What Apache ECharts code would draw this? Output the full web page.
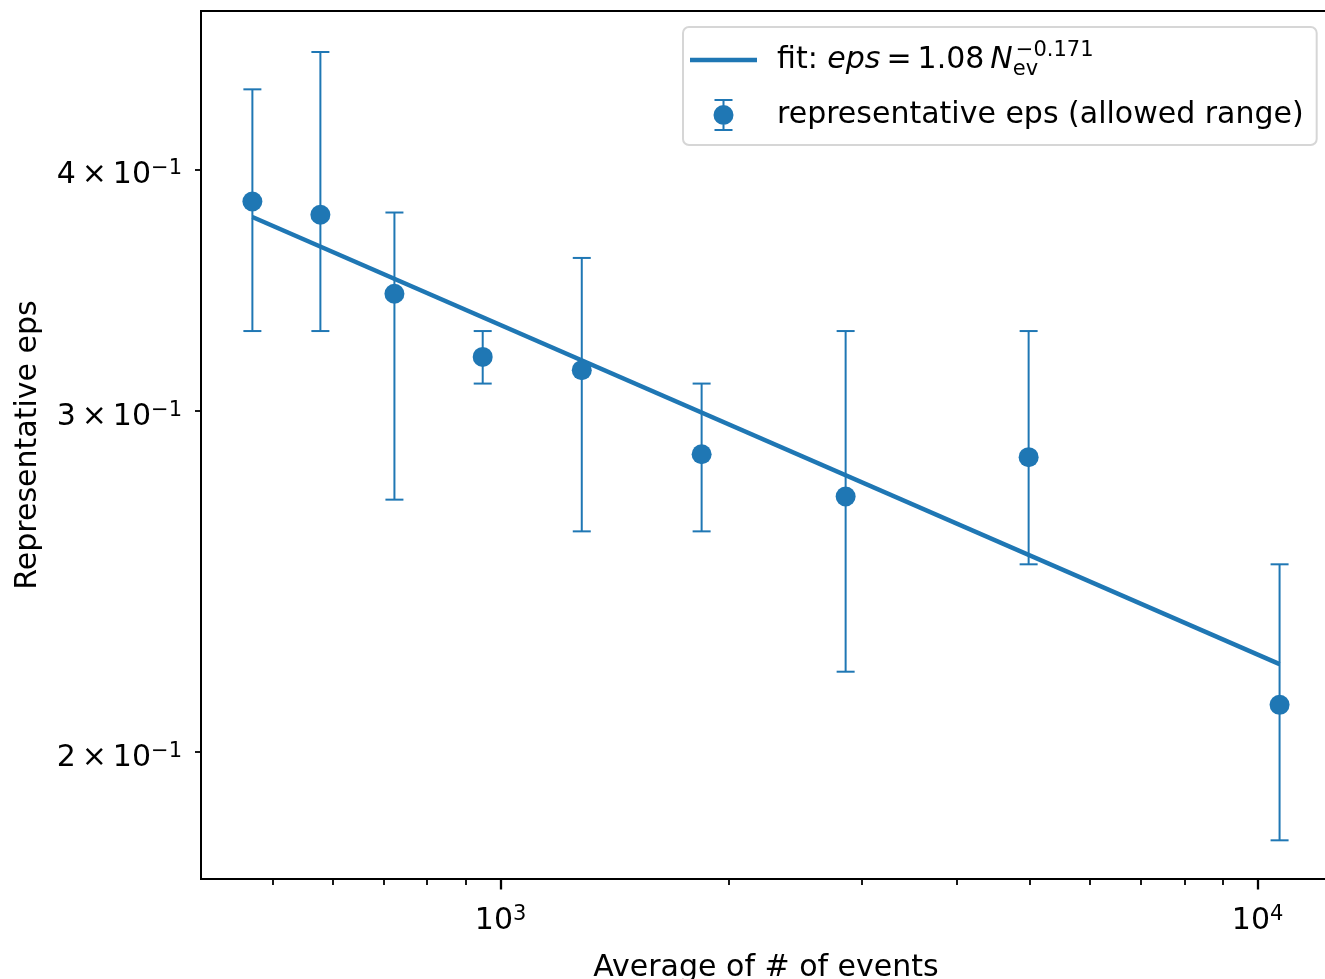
<!DOCTYPE html>
<html><head><meta charset="utf-8">
<script src="https://cdn.jsdelivr.net/npm/echarts@6/dist/echarts.min.js"></script>
<style>html,body{margin:0;padding:0;background:#fff}#c{width:1325px;height:979px}</style>
</head><body><div id="c"></div>
<script>
// ---- data ----
const eventsX  = [470, 578, 724, 947, 1280, 1843, 2856, 4983, 10690];
const epsY     = [0.385, 0.379, 0.345, 0.320, 0.315, 0.285, 0.271, 0.284, 0.2115];
const epsLow   = [0.330, 0.330, 0.270, 0.310, 0.260, 0.260, 0.220, 0.250, 0.180];
const epsHigh  = [0.440, 0.460, 0.380, 0.330, 0.360, 0.310, 0.330, 0.330, 0.250];
const fitX     = [470, 10690];
const fitY     = [0.378, 0.222];
const xMajorTicks = [1000, 10000];
const xMajorExp   = ['3', '4'];
const xMinorTicks = [500, 600, 700, 800, 900, 2000, 3000, 4000, 5000, 6000, 7000, 8000, 9000];
const yTicks      = [0.2, 0.3, 0.4];
const yTickMant   = ['2', '3', '4'];
const xRange = [402, 12500];
const yRange = [0.1719, 0.4830];
const fitName = 'fit';
const ptsName = 'representative eps (allowed range)';
const xName = 'Average of # of events';
const yName = 'Representative eps';

const C = '#1f77b4';
const FF = 'DejaVu Sans';
const FS = 30;
const FSS = 21;

function nearestIdx(arr, v) {
  let b = 0, d = Infinity;
  arr.forEach((a, i) => { const dd = Math.abs(Math.log(a) - Math.log(v)); if (dd < d) { d = dd; b = i; } });
  return b;
}

const labelRich = {
  b: { fontFamily: FF, fontSize: FS, color: '#000', lineHeight: 34 },
  s: { fontFamily: FF, fontSize: FSS, color: '#000', verticalAlign: 'top', lineHeight: 20 }
};

const linePath = 'path://M0,0M67,40M0,17.8H67V22.2H0Z';
const errPath = 'path://M0,0M67,40M32.5,5H34.5V35H32.5ZM24.5,4H42.5V6H24.5ZM24.5,34H42.5V36H24.5ZM23.5,20A10,10 0 1,1 43.5,20A10,10 0 1,1 23.5,20Z';

const chart = echarts.init(document.getElementById('c'), null, { renderer: 'canvas' });
chart.setOption({
  animation: false,
  backgroundColor: '#fff',
  grid: { left: 201, top: 11, right: -6, bottom: 100, show: true, borderColor: '#000', borderWidth: 2, backgroundColor: 'transparent', containLabel: false, outerBoundsMode: 'none' },
  legend: {
    orient: 'vertical', left: 683, top: 27,
    padding: [13, 13, 10, 7],
    itemWidth: 67, itemHeight: 40, itemGap: 15,
    backgroundColor: 'rgba(255,255,255,0.8)', borderColor: '#d6d6d6', borderWidth: 2, borderRadius: 6,
    itemStyle: { borderWidth: 0 },
    data: [{ name: fitName, icon: linePath }, { name: ptsName, icon: errPath }],
    formatter: function (name) {
      if (name === fitName) return '{t|fit: }{i|eps}{t|\u2009=\u20091.08\u2009}{i|N}{sub|ev}{sup|\u22120.171}';
      return '{t|' + name + '}';
    },
    textStyle: {
      padding: [0, 0, 0, 15],
      rich: {
        t: { fontFamily: FF, fontSize: FS, color: '#000', lineHeight: 40 },
        i: { fontFamily: FF, fontSize: FS, color: '#000', fontStyle: 'italic', lineHeight: 40 },
        sub: { fontFamily: FF, fontSize: FSS, color: '#000', verticalAlign: 'bottom', width: 3, lineHeight: 20 },
        sup: { fontFamily: FF, fontSize: FSS, color: '#000', verticalAlign: 'top', lineHeight: 20 }
      }
    }
  },
  xAxis: [
    {
      type: 'log', logBase: 10, min: xRange[0], max: xRange[1], position: 'bottom',
      axisLine: { show: false, onZero: false }, splitLine: { show: false },
      axisTick: { show: true, length: 10.5, lineStyle: { color: '#000', width: 2.3 }, customValues: xMajorTicks },
      axisLabel: {
        customValues: xMajorTicks, margin: 25, rich: labelRich,
        formatter: v => '{b|10}{s|' + xMajorExp[nearestIdx(xMajorTicks, v)] + '}'
      },
      name: xName, nameLocation: 'middle', nameGap: 74,
      nameTextStyle: { fontFamily: FF, fontSize: FS, color: '#000' }
    },
    {
      type: 'log', logBase: 10, min: xRange[0], max: xRange[1], position: 'bottom',
      axisLine: { show: false, onZero: false }, splitLine: { show: false },
      axisTick: { show: true, length: 6, lineStyle: { color: '#000', width: 1.8 }, customValues: xMinorTicks },
      axisLabel: { show: false }
    }
  ],
  yAxis: [
    {
      type: 'log', logBase: 10, min: yRange[0], max: yRange[1], position: 'left',
      axisLine: { show: false, onZero: false }, splitLine: { show: false },
      axisTick: { show: true, length: 6, lineStyle: { color: '#000', width: 1.8 }, customValues: yTicks },
      axisLabel: {
        customValues: yTicks, margin: 19, rich: labelRich, padding: [12, 0, 0, 0],
        formatter: v => '{b|' + yTickMant[nearestIdx(yTicks, v)] + '\u2009\u00d7\u200910}{s|\u22121}'
      },
      name: yName, nameLocation: 'middle', nameGap: 158, nameRotate: 90,
      nameTextStyle: { fontFamily: FF, fontSize: FS, color: '#000' }
    }
  ],
  series: [
    {
      name: fitName, type: 'line', xAxisIndex: 0, yAxisIndex: 0, z: 2,
      data: fitX.map((x, i) => [x, fitY[i]]),
      symbol: 'none', showSymbol: false, color: C,
      lineStyle: { color: C, width: 4.4 }
    },
    {
      name: 'errorbars', type: 'custom', xAxisIndex: 0, yAxisIndex: 0, z: 3, silent: true,
      data: eventsX.map((x, i) => [x, epsLow[i], epsHigh[i]]),
      encode: { x: 0, y: [1, 2] },
      renderItem: function (params, api) {
        const x = api.value(0);
        const pLo = api.coord([x, api.value(1)]);
        const pHi = api.coord([x, api.value(2)]);
        const cap = 9;
        const st = { stroke: C, lineWidth: 2, fill: null };
        return {
          type: 'group', children: [
            { type: 'line', shape: { x1: pLo[0], y1: pLo[1], x2: pHi[0], y2: pHi[1] }, style: st },
            { type: 'line', shape: { x1: pLo[0] - cap, y1: pLo[1], x2: pLo[0] + cap, y2: pLo[1] }, style: st },
            { type: 'line', shape: { x1: pHi[0] - cap, y1: pHi[1], x2: pHi[0] + cap, y2: pHi[1] }, style: st }
          ]
        };
      }
    },
    {
      name: ptsName, type: 'scatter', xAxisIndex: 0, yAxisIndex: 0, z: 4,
      data: eventsX.map((x, i) => [x, epsY[i]]),
      symbol: 'circle', symbolSize: 20, color: C,
      itemStyle: { color: C, opacity: 1 }
    }
  ]
});
</script>
</body></html>
